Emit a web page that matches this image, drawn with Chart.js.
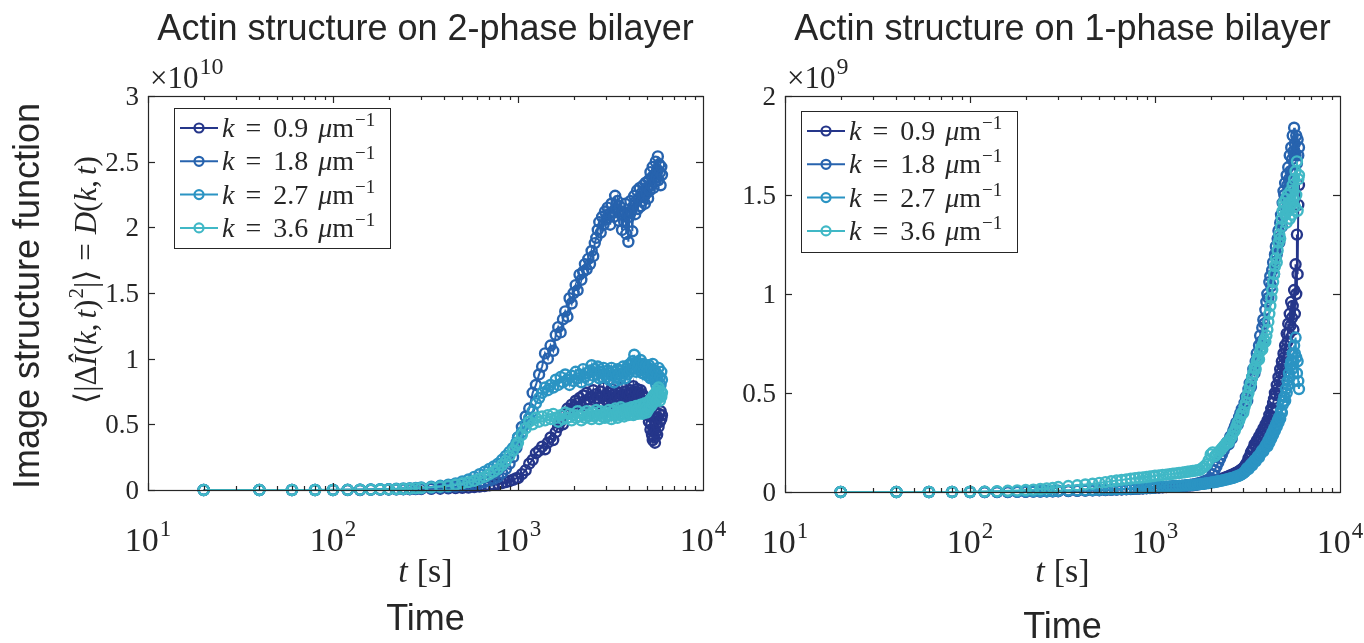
<!DOCTYPE html>
<html>
<head>
<meta charset="utf-8">
<script src="https://cdn.jsdelivr.net/npm/chart.js@4.4.1/dist/chart.umd.min.js"></script>
<style>
  body { margin: 0; background: #fff; width: 1364px; height: 643px; overflow: hidden; position: relative; }
  canvas { position: absolute; top: 0; }
  #left { left: 0; }
  #right { left: 720px; }
</style>
</head>
<body>
<canvas id="left" width="760" height="643"></canvas>
<canvas id="right" width="644" height="643"></canvas>
<script>
// sample times [s]
const times = [
  20, 40, 60, 80, 100, 120, 140, 160, 180, 200, 220, 240, 260, 280, 300,
  340, 380, 420, 460, 500, 540, 580, 620, 660, 700, 740, 780, 820, 860, 900, 940, 980,
  1000, 1050, 1100, 1150, 1200, 1250, 1300, 1350, 1400, 1450,
  1500, 1550, 1600, 1650, 1700, 1750, 1800, 1850, 1900, 1950,
  2000, 2050, 2100, 2150, 2200, 2250, 2300, 2350, 2400, 2450,
  2500, 2550, 2600, 2650, 2700, 2750, 2800, 2850, 2900, 2950,
  3000, 3050, 3100, 3150, 3200, 3250, 3300, 3350, 3400, 3450,
  3500, 3550, 3600, 3650, 3700, 3750, 3800, 3850, 3900, 3950,
  4000, 4050, 4100, 4150, 4200, 4250, 4300, 4350, 4400, 4450,
  4500, 4550, 4600, 4650, 4700, 4750, 4800, 4850, 4900, 4950,
  5000, 5050, 5100, 5150, 5200, 5250, 5300, 5350, 5400, 5450,
  5500, 5550, 5600, 5650, 5700, 5750, 5800, 5850, 5900, 5950,
  6000
];

const kLabels = ['0.9', '1.8', '2.7', '3.6'];
const colors = ['#25368a', '#2763ae', '#2b94c3', '#40b8c6'];

// 2-phase bilayer, units of 1e10
const twoPhase09 = [
  0, 0, 0, 0, 0, 0, 0, 0.002, 0.003, 0.004, 0.005, 0.006, 0.006, 0.007, 0.008,
  0.009, 0.01, 0.012, 0.014, 0.016, 0.019, 0.022, 0.026, 0.03, 0.035, 0.04, 0.045, 0.052, 0.06, 0.068, 0.078, 0.09,
  0.09, 0.12, 0.15, 0.2, 0.23, 0.28, 0.3, 0.33, 0.31, 0.36,
  0.4, 0.38, 0.44, 0.48, 0.52, 0.5, 0.58, 0.62, 0.6, 0.65,
  0.63, 0.68, 0.66, 0.7, 0.64, 0.72, 0.68, 0.74, 0.69, 0.66,
  0.71, 0.76, 0.68, 0.73, 0.7, 0.66, 0.75, 0.71, 0.78, 0.69,
  0.72, 0.67, 0.74, 0.7, 0.77, 0.66, 0.73, 0.69, 0.75, 0.71,
  0.68, 0.74, 0.7, 0.78, 0.72, 0.66, 0.75, 0.7, 0.73, 0.67,
  0.72, 0.76, 0.69, 0.74, 0.79, 0.7, 0.75, 0.68, 0.77, 0.72,
  0.74, 0.7, 0.76, 0.66, 0.73, 0.68, 0.64, 0.7, 0.6, 0.66,
  0.58, 0.62, 0.52, 0.56, 0.46, 0.5, 0.42, 0.38, 0.45, 0.4,
  0.36, 0.44, 0.5, 0.42, 0.55, 0.48, 0.58, 0.52, 0.6, 0.54,
  0.57
];
const twoPhase18 = [
  0, 0, 0, 0, 0, 0.001, 0.002, 0.003, 0.004, 0.005, 0.006, 0.007, 0.008, 0.009, 0.01,
  0.013, 0.016, 0.02, 0.025, 0.03, 0.036, 0.043, 0.05, 0.06, 0.07, 0.085, 0.1, 0.13, 0.16, 0.2, 0.25, 0.32,
  0.4, 0.48, 0.56, 0.62, 0.74, 0.8, 0.88, 0.94, 1.04, 1.0,
  1.1, 1.06, 1.18, 1.24, 1.2, 1.3, 1.36, 1.32, 1.46, 1.42,
  1.5, 1.56, 1.52, 1.64, 1.6, 1.66, 1.72, 1.68, 1.76, 1.72,
  1.82, 1.78, 1.88, 1.92, 1.98, 2.04, 1.96, 2.08, 2.02, 2.12,
  2.06, 2.15, 2.1, 2.02, 2.18, 2.12, 2.08, 2.24, 2.14, 2.2,
  2.05, 2.16, 2.1, 1.98, 2.12, 2.04, 2.18, 1.95, 2.1, 1.89,
  2.08, 2.2, 2.12, 1.97, 2.16, 2.24, 2.1, 2.2, 2.28, 2.14,
  2.22, 2.3, 2.16, 2.26, 2.2, 2.32, 2.24, 2.18, 2.34, 2.26,
  2.3, 2.22, 2.36, 2.28, 2.42, 2.32, 2.38, 2.46, 2.3, 2.4,
  2.35, 2.5, 2.38, 2.44, 2.54, 2.36, 2.48, 2.42, 2.32, 2.46,
  2.4
];
const twoPhase27 = [
  0, 0, 0, 0, 0.001, 0.002, 0.003, 0.004, 0.006, 0.007, 0.009, 0.011, 0.013, 0.016, 0.019,
  0.025, 0.032, 0.04, 0.05, 0.065, 0.08, 0.1, 0.12, 0.14, 0.16, 0.18, 0.2, 0.23, 0.26, 0.29, 0.32, 0.36,
  0.4, 0.44, 0.5, 0.55, 0.6, 0.66, 0.7, 0.74, 0.78, 0.76,
  0.8, 0.78, 0.84, 0.8, 0.86, 0.82, 0.88, 0.84, 0.8, 0.87,
  0.83, 0.9, 0.85, 0.88, 0.82, 0.92, 0.86, 0.89, 0.84, 0.91,
  0.95, 0.87, 0.92, 0.88, 0.94, 0.85, 0.9, 0.86, 0.93, 0.88,
  0.86, 0.91, 0.84, 0.89, 0.93, 0.87, 0.82, 0.9, 0.86, 0.92,
  0.88, 0.84, 0.91, 0.87, 0.94, 0.89, 0.85, 0.92, 0.88, 0.95,
  0.9, 0.96, 0.92, 0.98, 0.93, 1.03, 0.95, 0.9, 0.97, 0.93,
  0.96, 0.91, 0.99, 0.94, 0.89, 0.96, 0.92, 0.88, 0.95, 0.9,
  0.93, 0.87, 0.95, 0.9, 0.85, 0.92, 0.88, 0.96, 0.86, 0.91,
  0.84, 0.9, 0.8, 0.88, 0.83, 0.93, 0.78, 0.86, 0.8, 0.9,
  0.84
];
const twoPhase36 = [
  0, 0, 0, 0, 0, 0.001, 0.002, 0.003, 0.004, 0.005, 0.006, 0.008, 0.01, 0.012, 0.015,
  0.02, 0.025, 0.03, 0.04, 0.05, 0.06, 0.07, 0.085, 0.1, 0.12, 0.14, 0.16, 0.19, 0.22, 0.26, 0.3, 0.34,
  0.36, 0.42, 0.47, 0.52, 0.5, 0.55, 0.52, 0.56, 0.53, 0.57,
  0.54, 0.58, 0.55, 0.52, 0.57, 0.54, 0.59, 0.55, 0.58, 0.53,
  0.57, 0.55, 0.6, 0.56, 0.53, 0.58, 0.55, 0.6, 0.56, 0.58,
  0.54, 0.59, 0.56, 0.61, 0.57, 0.54, 0.6, 0.56, 0.58, 0.55,
  0.59, 0.56, 0.61, 0.57, 0.54, 0.6, 0.57, 0.62, 0.58, 0.55,
  0.6, 0.57, 0.63, 0.58, 0.61, 0.56, 0.6, 0.58, 0.62, 0.57,
  0.61, 0.58, 0.63, 0.6, 0.57, 0.62, 0.59, 0.64, 0.6, 0.58,
  0.63, 0.6, 0.65, 0.61, 0.58, 0.64, 0.6, 0.66, 0.62, 0.59,
  0.64, 0.61, 0.67, 0.63, 0.69, 0.64, 0.7, 0.66, 0.72, 0.67,
  0.7, 0.74, 0.68, 0.76, 0.7, 0.78, 0.72, 0.68, 0.75, 0.71,
  0.74
];

// 1-phase bilayer, units of 1e9
const onePhase09 = [
  0, 0, 0, 0, 0, 0, 0, 0, 0.001, 0.001, 0.002, 0.002, 0.003, 0.003, 0.004,
  0.005, 0.006, 0.007, 0.008, 0.009, 0.01, 0.011, 0.012, 0.013, 0.014, 0.015, 0.016, 0.017, 0.018, 0.019, 0.02, 0.021,
  0.022, 0.023, 0.024, 0.025, 0.026, 0.027, 0.028, 0.029, 0.03, 0.031,
  0.032, 0.033, 0.034, 0.036, 0.038, 0.04, 0.042, 0.044, 0.046, 0.048,
  0.05, 0.052, 0.055, 0.058, 0.06, 0.063, 0.066, 0.07, 0.073, 0.076,
  0.08, 0.083, 0.086, 0.09, 0.094, 0.098, 0.1, 0.105, 0.11, 0.115,
  0.12, 0.13, 0.14, 0.15, 0.17, 0.18, 0.2, 0.21, 0.22, 0.24,
  0.23, 0.26, 0.25, 0.28, 0.27, 0.3, 0.29, 0.32, 0.31, 0.34,
  0.33, 0.36, 0.35, 0.39, 0.38, 0.42, 0.41, 0.45, 0.47, 0.5,
  0.49, 0.54, 0.52, 0.58, 0.56, 0.62, 0.6, 0.66, 0.64, 0.7,
  0.68, 0.74, 0.72, 0.8, 0.76, 0.85, 0.8, 0.9, 0.84, 0.96,
  0.88, 0.94, 0.82, 1.02, 0.9, 1.15, 1.0, 1.3, 1.1, 1.45,
  1.55
];
const onePhase18 = [
  0, 0, 0, 0, 0, 0, 0.001, 0.001, 0.002, 0.002, 0.003, 0.003, 0.004, 0.004, 0.005,
  0.006, 0.007, 0.008, 0.009, 0.01, 0.011, 0.012, 0.013, 0.014, 0.015, 0.016, 0.017, 0.018, 0.019, 0.02, 0.021, 0.022,
  0.023, 0.024, 0.025, 0.026, 0.027, 0.028, 0.029, 0.03, 0.031, 0.032,
  0.034, 0.036, 0.038, 0.04, 0.043, 0.046, 0.05, 0.054, 0.058, 0.062,
  0.07, 0.09, 0.11, 0.13, 0.15, 0.17, 0.19, 0.21, 0.23, 0.25,
  0.24, 0.28, 0.27, 0.31, 0.33, 0.35, 0.34, 0.38, 0.4, 0.42,
  0.41, 0.45, 0.48, 0.46, 0.52, 0.55, 0.53, 0.58, 0.62, 0.6,
  0.66, 0.7, 0.68, 0.74, 0.79, 0.76, 0.83, 0.87, 0.85, 0.92,
  0.96, 1.0, 0.98, 1.06, 1.09, 1.04, 1.12, 1.16, 1.1, 1.2,
  1.24, 1.2, 1.28, 1.32, 1.26, 1.36, 1.4, 1.34, 1.46, 1.52,
  1.5, 1.56, 1.48, 1.6, 1.55, 1.64, 1.58, 1.7, 1.62, 1.74,
  1.68, 1.8, 1.72, 1.84, 1.76, 1.7, 1.8, 1.66, 1.78, 1.7,
  1.74
];
const onePhase27 = [
  0, 0, 0, 0, 0, 0.001, 0.001, 0.002, 0.002, 0.003, 0.003, 0.004, 0.004, 0.005, 0.006,
  0.007, 0.008, 0.009, 0.01, 0.011, 0.012, 0.013, 0.014, 0.015, 0.016, 0.017, 0.018, 0.019, 0.02, 0.021, 0.022, 0.023,
  0.024, 0.025, 0.026, 0.027, 0.028, 0.029, 0.03, 0.031, 0.032, 0.033,
  0.034, 0.035, 0.036, 0.037, 0.038, 0.04, 0.041, 0.042, 0.044, 0.045,
  0.047, 0.049, 0.05, 0.052, 0.054, 0.056, 0.058, 0.06, 0.062, 0.064,
  0.066, 0.068, 0.07, 0.072, 0.075, 0.078, 0.08, 0.083, 0.086, 0.09,
  0.095, 0.1, 0.11, 0.12, 0.115, 0.13, 0.14, 0.135, 0.15, 0.16,
  0.155, 0.17, 0.18, 0.175, 0.19, 0.2, 0.21, 0.205, 0.22, 0.23,
  0.24, 0.23, 0.26, 0.25, 0.28, 0.27, 0.3, 0.29, 0.32, 0.31,
  0.34, 0.33, 0.36, 0.35, 0.38, 0.37, 0.41, 0.4, 0.44, 0.46,
  0.48, 0.46, 0.52, 0.5, 0.56, 0.54, 0.6, 0.58, 0.64, 0.66,
  0.62, 0.7, 0.66, 0.74, 0.7, 0.78, 0.68, 0.6, 0.66, 0.56,
  0.52
];
const onePhase36 = [
  0, 0, 0, 0, 0.001, 0.002, 0.004, 0.006, 0.008, 0.01, 0.012, 0.015, 0.018, 0.021, 0.025,
  0.03, 0.034, 0.038, 0.042, 0.046, 0.05, 0.054, 0.058, 0.061, 0.064, 0.067, 0.07, 0.072, 0.074, 0.076, 0.078, 0.08,
  0.082, 0.084, 0.086, 0.088, 0.09, 0.092, 0.094, 0.096, 0.098, 0.1,
  0.102, 0.104, 0.106, 0.108, 0.11, 0.112, 0.12, 0.13, 0.14, 0.16,
  0.19, 0.2, 0.18, 0.19, 0.2, 0.21, 0.22, 0.23, 0.24, 0.25,
  0.25, 0.27, 0.28, 0.3, 0.31, 0.33, 0.35, 0.36, 0.38, 0.4,
  0.4, 0.43, 0.45, 0.48, 0.5, 0.53, 0.55, 0.58, 0.6, 0.63,
  0.62, 0.66, 0.68, 0.67, 0.71, 0.73, 0.72, 0.75, 0.77, 0.76,
  0.79, 0.82, 0.86, 0.9, 0.94, 0.98, 1.02, 1.06, 1.1, 1.14,
  1.18, 1.16, 1.22, 1.26, 1.3, 1.28, 1.34, 1.38, 1.42, 1.46,
  1.44, 1.4, 1.48, 1.36, 1.5, 1.42, 1.46, 1.38, 1.52, 1.45,
  1.4, 1.55, 1.48, 1.58, 1.44, 1.62, 1.5, 1.67, 1.42, 1.58,
  1.6
];

const xDecades = [1, 2, 3, 4];
const twoPhaseTicks = [0, 0.5, 1, 1.5, 2, 2.5, 3];
const onePhaseTicks = [0, 0.5, 1, 1.5, 2];

const SERIF = '"Liberation Serif", "DejaVu Serif", serif';
const SANS = '"Liberation Sans", Arial, sans-serif';
const INK = '#262626';

// draw a row of text pieces: [text, font, dy, gapBefore]
function rich(ctx, parts, x, y, align) {
  let w = 0;
  parts.forEach(p => { ctx.font = p[1]; w += (p[3] || 0) + ctx.measureText(p[0]).width; });
  let cx = align === 'center' ? x - w / 2 : align === 'right' ? x - w : x;
  parts.forEach(p => {
    ctx.font = p[1];
    cx += p[3] || 0;
    ctx.fillText(p[0], cx, y + (p[2] || 0));
    cx += ctx.measureText(p[0]).width;
  });
  return w;
}

const matlabAxes = {
  id: 'matlab',
  afterDraw(chart, args, o) {
    const { ctx, chartArea: a, scales: { x, y } } = chart;
    ctx.save();
    ctx.strokeStyle = INK;
    ctx.fillStyle = INK;
    ctx.lineWidth = 1.2;
    const seg = (x1, y1, x2, y2) => { ctx.beginPath(); ctx.moveTo(x1, y1); ctx.lineTo(x2, y2); ctx.stroke(); };

    // log x ticks, inward, bottom and top
    for (let d = 1; d <= 3; d++) {
      for (let m = 1; m <= 9; m++) {
        const px = Math.round(x.getPixelForValue(m * Math.pow(10, d))) + 0.5;
        const len = m === 1 ? 7 : 4;
        seg(px, a.bottom, px, a.bottom - len);
        seg(px, a.top, px, a.top + len);
      }
    }
    // y ticks, inward, left and right
    o.yTicks.forEach(v => {
      const py = Math.round(y.getPixelForValue(v)) + 0.5;
      seg(a.left, py, a.left + 7, py);
      seg(a.right, py, a.right - 7, py);
    });
    ctx.strokeRect(Math.round(a.left) + 0.5, Math.round(a.top) + 0.5, Math.round(a.right - a.left), Math.round(a.bottom - a.top));

    // tick labels
    ctx.textBaseline = 'alphabetic';
    o.yTicks.forEach(v => {
      ctx.font = '27px ' + SERIF;
      ctx.textAlign = 'right';
      ctx.fillText(String(v), a.left - 9, y.getPixelForValue(v) + 9);
    });
    ctx.textAlign = 'left';
    xDecades.forEach(d => {
      const px = x.getPixelForValue(Math.pow(10, d));
      rich(ctx, [['10', '34px ' + SERIF], [String(d), '23px ' + SERIF, -15, 1]], px, a.bottom + 61, 'center');
    });
    // exponent
    rich(ctx, [['\u00d710', '31px ' + SERIF], [o.exp, '24px ' + SERIF, -14, 1]], a.left + 2, a.top - 8, 'left');

    // title
    ctx.font = '36px ' + SANS;
    ctx.textAlign = 'center';
    ctx.fillText(o.title, (a.left + a.right) / 2, 40);
    // x label
    ctx.textAlign = 'left';
    rich(ctx, [['t', 'italic 34px ' + SERIF], ['[s]', '34px ' + SERIF, 0, 9]], (a.left + a.right) / 2, 582, 'center');
    ctx.font = '36px ' + SANS;
    ctx.textAlign = 'center';
    ctx.fillText('Time', (a.left + a.right) / 2 + o.timeDx, o.timeY);

    // y labels
    if (o.yLabel) {
      ctx.save();
      ctx.translate(39, 296);
      ctx.rotate(-Math.PI / 2);
      ctx.font = '36px ' + SANS;
      ctx.textAlign = 'center';
      ctx.fillText('Image structure function', 0, 0);
      ctx.restore();
      ctx.save();
      ctx.translate(96, 280);
      ctx.rotate(-Math.PI / 2);
      ctx.textAlign = 'left';
      const f = '31px ' + SERIF, fi = 'italic 31px ' + SERIF;
      rich(ctx, [
        ['\u27e8|', f], ['\u0394', f], ['\u00ce', fi], ['(', f], ['k', fi], [',', f], ['t', fi, 0, 5], [')', f],
        ['2', '21px ' + SERIF, -13, 1], ['|\u27e9', f], ['=', f, 0, 9], ['D', fi, 0, 9], ['(', f], ['k', fi], [',', f], ['t', fi, 0, 5], [')', f]
      ], 0, 0, 'center');
      ctx.restore();
    }

    // legend
    const L = o.legend;
    ctx.fillStyle = '#fff';
    ctx.fillRect(L.x, L.y, L.w, L.h);
    ctx.strokeStyle = INK;
    ctx.lineWidth = 1;
    ctx.strokeRect(L.x + 0.5, L.y + 0.5, L.w, L.h);
    chart.data.datasets.forEach((ds, i) => {
      const ey = L.y + 20 + i * 33.3;
      ctx.strokeStyle = ds.borderColor;
      ctx.lineWidth = 2;
      seg(L.x + 6, ey, L.x + 44, ey);
      ctx.lineWidth = 2.2;
      ctx.beginPath();
      ctx.arc(L.x + 25, ey, 4.5, 0, Math.PI * 2);
      ctx.stroke();
      ctx.fillStyle = INK;
      ctx.textAlign = 'left';
      const f = '28px ' + SERIF, fi = 'italic 28px ' + SERIF;
      rich(ctx, [
        ['k', fi], ['=', f, 0, 11], [kLabels[i], f, 0, 12], ['\u03bc', fi, 0, 10], ['m', f],
        ['\u22121', '19px ' + SERIF, -11, 1]
      ], L.x + 48, ey + 9, 'left');
    });
    ctx.restore();
  }
};

function makeChart(id, series, yMax, o) {
  return new Chart(document.getElementById(id), {
    type: 'line',
    data: {
      datasets: series.map((vals, i) => ({
        label: 'k = ' + kLabels[i],
        data: times.map((t, j) => ({ x: t, y: vals[j] })),
        borderColor: colors[i],
        backgroundColor: 'rgba(0,0,0,0)',
        borderWidth: 2,
        pointRadius: 5,
        pointBorderWidth: 2.4,
        pointBackgroundColor: 'rgba(0,0,0,0)',
        pointBorderColor: colors[i],
        tension: 0,
        clip: false,
        order: 4 - i
      }))
    },
    options: {
      responsive: false,
      animation: false,
      devicePixelRatio: 1,
      layout: { padding: o.pad },
      plugins: { legend: { display: false }, tooltip: { enabled: false }, matlab: o },
      scales: {
        x: { type: 'logarithmic', min: 10, max: 10000, display: false },
        y: { type: 'linear', min: 0, max: yMax, display: false }
      }
    },
    plugins: [matlabAxes]
  });
}

makeChart('left', [twoPhase09, twoPhase18, twoPhase27, twoPhase36], 3, {
  pad: { left: 148, right: 57, top: 96, bottom: 153 },
  yTicks: twoPhaseTicks, exp: '10',
  title: 'Actin structure on 2-phase bilayer',
  legend: { x: 174, y: 108, w: 216, h: 140 },
  yLabel: true, timeY: 630, timeDx: 0
});
makeChart('right', [onePhase09, onePhase18, onePhase27, onePhase36], 2, {
  pad: { left: 65, right: 24, top: 96, bottom: 151 },
  yTicks: onePhaseTicks, exp: '9',
  title: 'Actin structure on 1-phase bilayer',
  legend: { x: 81, y: 111, w: 216, h: 141 },
  yLabel: false, timeY: 638, timeDx: 0
});
</script>
</body>
</html>
